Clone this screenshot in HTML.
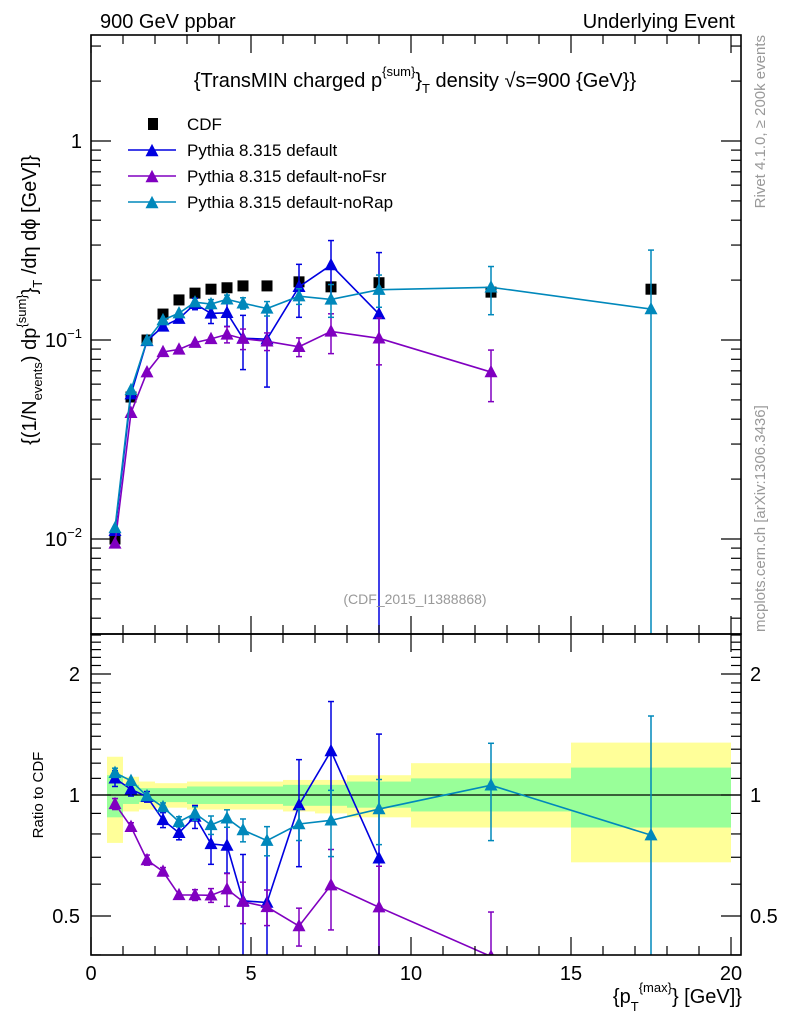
<!DOCTYPE html>
<html><head><meta charset="utf-8"><style>
html,body{margin:0;padding:0;background:#fff;width:786px;height:1024px;overflow:hidden;}
svg{display:block;font-family:"Liberation Sans",sans-serif;}
</style></head><body>
<svg id="c" width="786" height="1024" viewBox="0 0 786 1024" xmlns="http://www.w3.org/2000/svg" overflow="hidden">
<defs>
<clipPath id="cm"><rect x="91" y="35" width="650" height="599"/></clipPath>
<clipPath id="cr"><rect x="91" y="634" width="650" height="321"/></clipPath>
</defs>
<g id="bands" clip-path="url(#cr)"></g>
<g id="marks"></g>
<g id="axes"></g>
<text x="100" y="28" font-size="20">900 GeV ppbar</text>
<text x="735" y="28" font-size="20" text-anchor="end">Underlying Event</text>
<text x="415" y="87" font-size="20" text-anchor="middle">{TransMIN charged p<tspan dy="-11" font-size="13">{sum}</tspan><tspan dy="11">}</tspan><tspan dy="6" font-size="13">T</tspan><tspan dy="-6"> density √s=900 {GeV}}</tspan></text>
<text x="415" y="604" font-size="14" fill="#999" text-anchor="middle">(CDF_2015_I1388868)</text>
<text transform="translate(765,35) rotate(-90)" font-size="15" fill="#999" text-anchor="end">Rivet 4.1.0, ≥ 200k events</text>
<text transform="translate(765,632) rotate(-90)" font-size="15" fill="#999">mcplots.cern.ch [arXiv:1306.3436]</text>
<text transform="translate(36,300) rotate(-90)" font-size="20" text-anchor="middle">{(1/N<tspan dy="6" font-size="13">events</tspan><tspan dy="-6">) dp</tspan><tspan dy="-10" font-size="13">{sum}</tspan><tspan dy="10">}</tspan><tspan dy="6" font-size="13">T</tspan><tspan dy="-6"> /dη  dϕ [GeV]}</tspan></text>
<text transform="translate(43,795) rotate(-90)" font-size="15" text-anchor="middle">Ratio to CDF</text>
<text x="742" y="1003" font-size="20" text-anchor="end">{p<tspan dy="8" font-size="13">T</tspan><tspan dy="-19" font-size="13">{max}</tspan><tspan dy="11">} [GeV]}</tspan></text>
<g id="legend"></g>
</svg>
<script>
const xs = [0.75,1.25,1.75,2.25,2.75,3.25,3.75,4.25,4.75,5.5,6.5,7.5,9,12.5,17.5];
const cdfVals = [0.0100,0.0517,0.100,0.135,0.159,0.172,0.180,0.183,0.187,0.187,0.196,0.185,0.194,0.174,0.180];
const binEdges = [0.5,1,1.5,2,2.5,3,3.5,4,4.5,5,6,7,8,10,15,20];
const yellowUp = [1.245,1.11,1.08,1.07,1.07,1.08,1.08,1.08,1.08,1.08,1.09,1.09,1.12,1.2,1.35];
const yellowDn = [0.76,0.91,0.92,0.93,0.93,0.92,0.92,0.92,0.92,0.92,0.91,0.9,0.88,0.83,0.68];
const greenUp = [1.12,1.06,1.04,1.04,1.04,1.05,1.05,1.05,1.05,1.05,1.06,1.06,1.08,1.1,1.17];
const greenDn = [0.88,0.95,0.96,0.96,0.96,0.95,0.95,0.95,0.95,0.95,0.94,0.94,0.93,0.91,0.83];
const defVals = [0.0110,0.0534,0.099,0.117,0.128,0.152,0.136,0.137,0.102,0.101,0.185,0.238,0.135,null,null];
const defErr = [0.0005,0.002,0.003,0.005,0.005,0.01,0.015,0.02,0.031,0.043,0.055,0.078,0.14,null,null];
const fsrVals = [0.0095,0.0431,0.0689,0.0871,0.0897,0.097,0.1013,0.1067,0.1015,0.0985,0.0925,0.1104,0.102,0.069,null];
const fsrErr = [0.0003,0.001,0.002,0.002,0.002,0.003,0.004,0.01,0.012,0.01,0.01,0.025,0.027,0.02,null];
const rapVals = [0.01136,0.0561,0.0994,0.126,0.1364,0.1548,0.1516,0.1601,0.153,0.144,0.166,0.160,0.179,0.184,0.143];
const rapErr = [0.0003,0.001,0.002,0.003,0.004,0.006,0.008,0.008,0.01,0.012,0.015,0.03,0.033,0.05,0.14];
const mainTicks = [0.01,0.1,1];
const mainTickLabels = ["10","10","1"];
const mainTickExp = ["−2","−1",""];
const ratioTicks = [0.5,1,2];
const ratioTickLabels = ["0.5","1","2"];
const xTicks = [0,5,10,15,20];
const xTickLabels = ["0","5","10","15","20"];

const NS="http://www.w3.org/2000/svg";
const L=91,R=741,T=35,MB=634,B=955;
const X=v=>91+v*32;
const Y=v=>141-199*Math.log10(v);
const YR=v=>795-121*Math.log2(v);
function mk(tag,attrs,parent){const e=document.createElementNS(NS,tag);for(const k in attrs)e.setAttribute(k,attrs[k]);parent.appendChild(e);return e;}
const bands=document.getElementById('bands'),marks=document.getElementById('marks'),axes=document.getElementById('axes'),legend=document.getElementById('legend');

for(let i=0;i<binEdges.length-1;i++){
  const x0=X(binEdges[i]),x1=X(binEdges[i+1]);
  const y=mk('rect',{x:x0,y:YR(yellowUp[i]),width:x1-x0,height:YR(yellowDn[i])-YR(yellowUp[i]),fill:'#ffff99'},bands);
  
  
  const g=mk('rect',{x:x0,y:YR(greenUp[i]),width:x1-x0,height:YR(greenDn[i])-YR(greenUp[i]),fill:'#99ff99'},bands);
  
  
}
const one=mk('line',{x1:L,x2:R,y1:YR(1),y2:YR(1),stroke:'#000','stroke-width':1.2},bands);



const gm=mk('g',{'clip-path':'url(#cm)'},marks);
const gr=mk('g',{'clip-path':'url(#cr)'},marks);

function tri(x,y,c,p){const s=6.5;return mk('polygon',{points:`${x-s},${y+s*0.8} ${x+s},${y+s*0.8} ${x},${y-s*1.1}`,fill:c},p);}

function series(name,vals,err,color){
  const gg=mk('g',{},gm);  
  const gq=mk('g',{},gr);  
  let pm=[],pr=[];
  for(let i=0;i<xs.length;i++){
    if(vals[i]==null)continue;
    const x=X(xs[i]);
    pm.push(x+','+Y(vals[i]));
    pr.push(x+','+YR(vals[i]/cdfVals[i]));
  }
  const l1=mk('polyline',{points:pm.join(' '),fill:'none',stroke:color,'stroke-width':1.6},gg);
   
  const l2=mk('polyline',{points:pr.join(' '),fill:'none',stroke:color,'stroke-width':1.6},gq);
   
  for(let i=0;i<xs.length;i++){
    if(vals[i]==null)continue;
    const x=X(xs[i]);
    const hi=vals[i]+err[i],lo=vals[i]-err[i];
    const yh=Y(hi),yl=lo>0?Math.min(Y(lo),MB+2):MB+2;
    const rh=YR(hi/cdfVals[i]),rl=lo>0?Math.min(YR(lo/cdfVals[i]),B+2):B+2;
    for(const [p,a,b,yc] of [[gg,yh,yl,Y(vals[i])],[gq,rh,rl,YR(vals[i]/cdfVals[i])]]){
      const e=mk('line',{x1:x,x2:x,y1:a,y2:b,stroke:color,'stroke-width':1.5},p);
       
      if(b-a>8){mk('line',{x1:x-3,x2:x+3,y1:a,y2:a,stroke:color,'stroke-width':1.5},p);mk('line',{x1:x-3,x2:x+3,y1:b,y2:b,stroke:color,'stroke-width':1.5},p);}
      const m=tri(x,yc,color,p);
       
    }
  }
}
const gc=mk('g',{},gm);  
for(let i=0;i<xs.length;i++){
  const s=mk('rect',{x:X(xs[i])-5.5,y:Y(cdfVals[i])-5.5,width:11,height:11,fill:'#000'},gc);
   
}
series('pythia-default',defVals,defErr,'#0000e0');
series('pythia-nofsr',fsrVals,fsrErr,'#8000c0');
series('pythia-norap',rapVals,rapErr,'#0088bb');

for(const [y0,y1,n] of [[T,MB,'main-frame'],[MB,B,'ratio-frame']]){
  const f=mk('rect',{x:L,y:y0,width:R-L,height:y1-y0,fill:'none',stroke:'#000','stroke-width':1.6},axes);
   
}
function tk(x1,y1,x2,y2){mk('line',{x1,y1,x2,y2,stroke:'#000','stroke-width':1.2},axes);}
for(let v=0;v<=20;v++){
  const x=X(v),len=v%5==0?18:9;
  tk(x,T,x,T+len);tk(x,MB,x,MB-len);tk(x,MB,x,MB+len);tk(x,B,x,B-len);
}
xTicks.forEach((v,i)=>{const t=mk('text',{x:X(v),y:980,'font-size':20,'text-anchor':'middle'},axes);t.textContent=xTickLabels[i];});
for(let d=-3;d<=0;d++){for(let m=1;m<=9;m++){const v=m*Math.pow(10,d);const y=Y(v);if(y<T||y>MB)continue;const len=m==1?20:10;tk(L,y,L+len,y);tk(R,y,R-len,y);}}
mainTicks.forEach((v,i)=>{const t=mk('text',{x:82,y:Y(v)+7,'font-size':20,'text-anchor':'end'},axes);t.textContent=mainTickLabels[i];if(mainTickExp[i]){const s=mk('tspan',{dy:-9,'font-size':13},t);s.textContent=mainTickExp[i];}});
for(let v=0.4;v<=2.5001;v+=0.1){const y=YR(v);if(y<MB||y>B)continue;const major=Math.abs(v-0.5)<1e-6||Math.abs(v-1)<1e-6||Math.abs(v-2)<1e-6;const len=major?20:10;tk(L,y,L+len,y);tk(R,y,R-len,y);}
ratioTicks.forEach((v,i)=>{for(const [x,a] of [[80,'end'],[750,'start']]){const t=mk('text',{x,y:YR(v)+7,'font-size':20,'text-anchor':a},axes);t.textContent=ratioTickLabels[i];}});

const leg=[['CDF',null,'#000'],['Pythia 8.315 default','t','#0000e0'],['Pythia 8.315 default-noFsr','t','#8000c0'],['Pythia 8.315 default-noRap','t','#0088bb']];
leg.forEach((e,i)=>{
  const y=124+i*26;
  const g=mk('g',{},legend);
  
  
  if(e[1]){mk('line',{x1:128,x2:176,y1:y,y2:y,stroke:e[2],'stroke-width':1.6},g);tri(152,y+1,e[2],g);}
  else mk('rect',{x:148,y:y-6,width:10,height:12,fill:'#000'},g);
  const t=mk('text',{x:187,y:y+6,'font-size':17},g);t.textContent=e[0];
});
</script>
</body></html>
